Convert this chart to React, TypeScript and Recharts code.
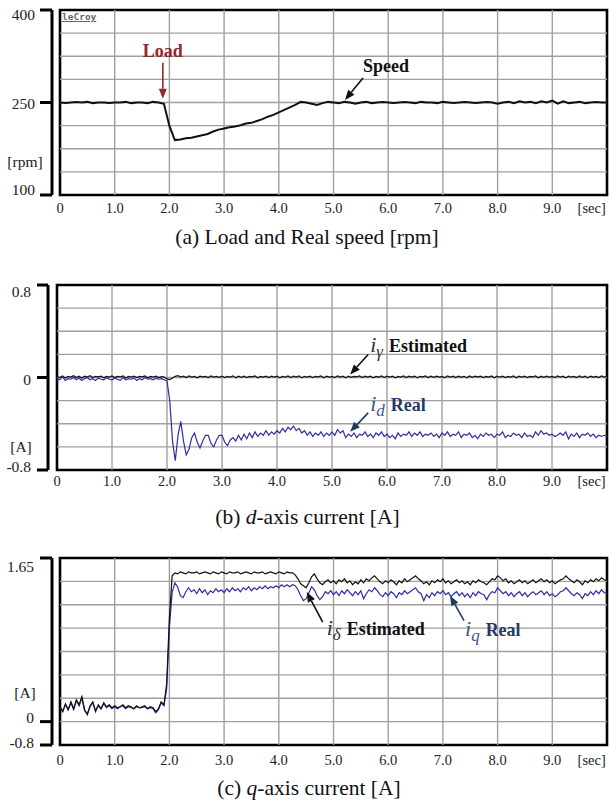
import React from "react";
import { LineChart, Line, XAxis, YAxis, ReferenceLine, ReferenceArea, ReferenceDot } from "recharts";

const SERIF = "Liberation Serif, DejaVu Serif, Times New Roman, serif";
const RED = "#8b2b2b";
const BLUE = "#2e2ea3";
const NAVY = "#1f3b63";
const GRID = "#a0a0a0";

// time axis
const X_TICKS = [0, 1, 2, 3, 4, 5, 6, 7, 8, 9];
const X_LABELS = ["0", "1.0", "2.0", "3.0", "4.0", "5.0", "6.0", "7.0", "8.0", "9.0"];
const SEC_AT = 9.72;

// (a) speed [rpm], sampled every 0.1 s
const SPEED_STEP = 0.1;
const SPEED = [
  250, 249, 250, 251, 250, 251, 249, 250, 250, 249,
  250, 250, 251, 249, 250, 250, 249, 251, 250, 248,
  212, 189, 190, 192, 193, 195, 197, 199, 203, 206,
  208, 210, 211, 213, 216, 217, 220, 223, 227, 230,
  234, 238, 242, 246, 251, 250, 248, 246, 249, 251,
  250, 249, 251, 250, 248, 250, 251, 249, 250, 251,
  250, 249, 250, 251, 250, 249, 251, 250, 250, 249,
  251, 250, 249, 250, 251, 250, 249, 250, 251, 250,
  248, 250, 251, 249, 252, 250, 251, 249, 252, 250,
  253, 248, 252, 249, 250, 251, 249, 250, 251, 250,
  250,
];
const SPEED_TICKS = [100, 155, 250, 400];
const SPEED_TICK_TEXT = ["100", "[rpm]", "250", "400"];
const SPEED_GRID = [137.5, 175, 212.5, 250, 287.5, 325, 362.5];

// (b) d-axis current [A], sampled every 0.05 s
const I_STEP = 0.05;
const GAMMA_EST = [
  0.010, 0.000, 0.014, -0.004, 0.010, 0.004, 0.015, 0.000, 0.011, -0.005, 0.012, 0.003, 0.015, 0.000, 0.010, 0.005, 0.012, -0.003, 0.010, 0.004,
  0.013, 0.000, 0.010, 0.006, 0.014, -0.004, 0.010, 0.003, 0.012, 0.000, 0.010, 0.005, 0.014, -0.002, 0.010, 0.004, 0.012, 0.000, 0.008, 0.004,
  -0.012, -0.018, -0.004, 0.010, 0.016, 0.004, 0.012, 0.000, 0.014, 0.004, 0.010, -0.002, 0.012, 0.005, 0.010, 0.000, 0.013, 0.003, 0.010, 0.002,
  0.012, 0.000, 0.010, 0.004, 0.014, -0.003, 0.011, 0.002, 0.012, 0.000, 0.010, 0.005, 0.013, -0.002, 0.010, 0.003, 0.012, 0.000, 0.011, 0.004,
  0.012, -0.002, 0.010, 0.004, 0.013, 0.000, 0.011, 0.003, 0.014, -0.003, 0.010, 0.004, 0.012, 0.000, 0.010, 0.005, 0.013, -0.002, 0.011, 0.003,
  0.010, 0.000, 0.013, 0.004, 0.011, -0.003, 0.012, 0.002, 0.010, 0.005, 0.013, 0.000, 0.011, 0.003, 0.012, -0.002, 0.010, 0.004, 0.013, 0.000,
  0.011, 0.003, 0.012, -0.002, 0.010, 0.004, 0.014, 0.000, 0.011, 0.003, 0.012, -0.003, 0.010, 0.005, 0.013, 0.000, 0.011, 0.002, 0.012, 0.004,
  0.010, -0.002, 0.013, 0.003, 0.011, 0.000, 0.012, 0.004, 0.010, -0.003, 0.013, 0.002, 0.011, 0.005, 0.012, 0.000, 0.010, 0.003, 0.014, -0.002,
  0.011, 0.004, 0.012, 0.000, 0.010, 0.003, 0.013, -0.002, 0.011, 0.004, 0.012, 0.000, 0.010, 0.005, 0.013, -0.003, 0.011, 0.002, 0.012, 0.004,
  0.010, 0.000, 0.013, 0.003, 0.011, -0.002, 0.012, 0.004, 0.010, 0.000, 0.013, 0.002, 0.011, -0.003, 0.012, 0.004, 0.010, 0.000, 0.013, 0.003,
  0.010,
];
const D_REAL = [
  -0.005, -0.020, 0.005, -0.025, -0.010, -0.015, 0.000, -0.020, -0.005, -0.025, -0.010, 0.000, -0.020, -0.010, -0.025, -0.005, -0.015, -0.020, 0.000, -0.015,
  -0.020, -0.005, -0.015, -0.025, 0.000, -0.020, -0.010, -0.015, -0.005, -0.025, -0.010, -0.020, 0.000, -0.015, -0.010, -0.020, -0.005, -0.015, -0.010, -0.020,
  -0.030, -0.200, -0.550, -0.720, -0.500, -0.380, -0.550, -0.670, -0.620, -0.520, -0.480, -0.560, -0.610, -0.550, -0.500, -0.500, -0.570, -0.600, -0.540, -0.500,
  -0.500, -0.560, -0.590, -0.540, -0.520, -0.550, -0.500, -0.540, -0.490, -0.530, -0.480, -0.520, -0.470, -0.510, -0.480, -0.500, -0.460, -0.500, -0.470, -0.490,
  -0.460, -0.480, -0.440, -0.470, -0.430, -0.450, -0.420, -0.460, -0.440, -0.480, -0.460, -0.500, -0.470, -0.510, -0.480, -0.500, -0.470, -0.510, -0.480, -0.500,
  -0.470, -0.500, -0.450, -0.480, -0.460, -0.520, -0.490, -0.510, -0.480, -0.520, -0.490, -0.500, -0.470, -0.510, -0.490, -0.520, -0.480, -0.500, -0.470, -0.510,
  -0.490, -0.520, -0.500, -0.530, -0.480, -0.510, -0.490, -0.500, -0.470, -0.510, -0.480, -0.500, -0.470, -0.510, -0.490, -0.500, -0.480, -0.510, -0.490, -0.520,
  -0.480, -0.500, -0.470, -0.510, -0.490, -0.500, -0.470, -0.520, -0.490, -0.500, -0.480, -0.520, -0.500, -0.530, -0.490, -0.510, -0.480, -0.500, -0.490, -0.520,
  -0.490, -0.500, -0.470, -0.520, -0.500, -0.510, -0.480, -0.500, -0.490, -0.520, -0.480, -0.510, -0.500, -0.520, -0.470, -0.500, -0.460, -0.490, -0.480, -0.500,
  -0.490, -0.510, -0.500, -0.480, -0.500, -0.470, -0.530, -0.490, -0.510, -0.480, -0.520, -0.490, -0.500, -0.480, -0.510, -0.490, -0.520, -0.500, -0.510, -0.500,
  -0.510,
];
const D_TICKS = [-0.8, -0.6, 0, 0.8];
const D_TICK_TEXT = ["-0.8", "[A]", "0", "0.8"];
const D_GRID = [-0.6, -0.4, -0.2, 0, 0.2, 0.4, 0.6];

// (c) q-axis current [A], sampled every 0.05 s
const DELTA_EST = [
  0.15, 0.10, 0.18, 0.12, 0.20, 0.13, 0.22, 0.17, 0.25, 0.12, 0.07, 0.16, 0.20, 0.10, 0.17, 0.13, 0.19, 0.15, 0.17, 0.14,
  0.16, 0.14, 0.15, 0.17, 0.14, 0.16, 0.15, 0.13, 0.16, 0.14, 0.15, 0.16, 0.13, 0.15, 0.14, 0.10, 0.13, 0.20, 0.17, 0.38,
  1.05, 1.47, 1.50, 1.49, 1.51, 1.50, 1.49, 1.51, 1.50, 1.50, 1.51, 1.49, 1.50, 1.51, 1.50, 1.49, 1.51, 1.50, 1.49, 1.51,
  1.50, 1.49, 1.51, 1.50, 1.50, 1.51, 1.49, 1.50, 1.51, 1.50, 1.49, 1.51, 1.50, 1.50, 1.51, 1.49, 1.50, 1.51, 1.50, 1.49,
  1.51, 1.50, 1.49, 1.51, 1.50, 1.50, 1.48, 1.44, 1.39, 1.37, 1.35, 1.40, 1.46, 1.49, 1.44, 1.40, 1.38, 1.41, 1.43, 1.40,
  1.42, 1.39, 1.43, 1.41, 1.44, 1.40, 1.42, 1.38, 1.41, 1.39, 1.43, 1.40, 1.44, 1.42, 1.45, 1.47, 1.44, 1.41, 1.39, 1.42,
  1.40, 1.43, 1.41, 1.38, 1.42, 1.40, 1.44, 1.41, 1.43, 1.45, 1.47, 1.44, 1.42, 1.39, 1.41, 1.38, 1.42, 1.40, 1.43, 1.41,
  1.44, 1.40, 1.42, 1.39, 1.41, 1.43, 1.40, 1.42, 1.39, 1.41, 1.38, 1.42, 1.40, 1.43, 1.41, 1.40, 1.38, 1.41, 1.44, 1.43,
  1.47, 1.45, 1.42, 1.44, 1.40, 1.42, 1.39, 1.41, 1.43, 1.40, 1.42, 1.39, 1.41, 1.43, 1.40, 1.42, 1.44, 1.41, 1.43, 1.40,
  1.42, 1.39, 1.41, 1.43, 1.44, 1.47, 1.44, 1.42, 1.40, 1.43, 1.41, 1.38, 1.42, 1.40, 1.43, 1.41, 1.44, 1.42, 1.45, 1.43,
  1.42,
];
const Q_REAL = [
  0.14, 0.11, 0.17, 0.12, 0.19, 0.12, 0.21, 0.16, 0.24, 0.11, 0.08, 0.15, 0.19, 0.11, 0.16, 0.13, 0.18, 0.14, 0.16, 0.13,
  0.15, 0.13, 0.15, 0.16, 0.13, 0.15, 0.14, 0.13, 0.15, 0.14, 0.14, 0.15, 0.13, 0.14, 0.13, 0.09, 0.12, 0.19, 0.16, 0.33,
  0.95, 1.30, 1.40, 1.36, 1.27, 1.25, 1.31, 1.35, 1.31, 1.33, 1.29, 1.34, 1.30, 1.33, 1.28, 1.32, 1.30, 1.34, 1.31, 1.33,
  1.30, 1.34, 1.31, 1.35, 1.32, 1.34, 1.31, 1.35, 1.33, 1.36, 1.32, 1.35, 1.33, 1.36, 1.34, 1.37, 1.34, 1.36, 1.35, 1.37,
  1.35, 1.38, 1.36, 1.38, 1.36, 1.38, 1.37, 1.33, 1.27, 1.22, 1.24, 1.30, 1.36, 1.33, 1.27, 1.23, 1.26, 1.31, 1.29, 1.32,
  1.28, 1.31, 1.27, 1.32, 1.29, 1.33, 1.30, 1.27, 1.31, 1.28, 1.32, 1.24, 1.29, 1.33, 1.31, 1.35, 1.32, 1.28, 1.26, 1.30,
  1.27, 1.31, 1.29, 1.25, 1.30, 1.28, 1.32, 1.29, 1.31, 1.33, 1.35, 1.31, 1.29, 1.22, 1.28, 1.25, 1.30, 1.27, 1.31, 1.29,
  1.32, 1.28, 1.30, 1.26, 1.29, 1.31, 1.27, 1.30, 1.26, 1.29, 1.25, 1.30, 1.27, 1.31, 1.29, 1.28, 1.23, 1.28, 1.31, 1.30,
  1.35, 1.32, 1.29, 1.31, 1.27, 1.30, 1.26, 1.29, 1.31, 1.27, 1.30, 1.26, 1.29, 1.31, 1.28, 1.30, 1.32, 1.28, 1.31, 1.27,
  1.29, 1.26, 1.28, 1.31, 1.32, 1.35, 1.32, 1.29, 1.27, 1.30, 1.28, 1.24, 1.29, 1.27, 1.31, 1.28, 1.32, 1.29, 1.33, 1.30,
  1.29,
];
const Q_MIN = -0.2357;
const Q_MAX = 1.65;
const Q_TICKS = [Q_MIN, 0, 0.29, Q_MAX];
const Q_TICK_TEXT = ["-0.8", "0", "[A]", "1.65"];
const Q_GRID = [0, 0.2357, 0.4714, 0.7071, 0.9429, 1.1786, 1.4143];

// arrow tips of the annotations [t, value]
const LOAD_TIP = [1.88, 256];
const SPEED_TIP = [5.21, 254];
const GAMMA_TIP = [5.33, 0.026];
const D_TIP = [5.33, -0.47];
const DELTA_TIP = [4.51, 1.306];
const Q_TIP = [7.13, 1.27];

const speedRows = SPEED.map((v, i) => ({ t: i * SPEED_STEP, speed: v }));
const dRows = GAMMA_EST.map((v, i) => ({ t: i * I_STEP, est: v, real: D_REAL[i] }));
const qRows = DELTA_EST.map((v, i) => ({ t: i * I_STEP, est: v, real: Q_REAL[i] }));

const XTick = (props: any) => {
  const { x, y, payload, dy } = props;
  const v = payload.value;
  const text = v === SEC_AT ? "[sec]" : X_LABELS[X_TICKS.indexOf(v)];
  return (
    <text x={x} y={y + dy} textAnchor="middle" dominantBaseline="central" fontSize={14.5} fontFamily={SERIF} fill="#222">
      {text}
    </text>
  );
};

const YTick = (props: any) => {
  const { x, y, payload, ticks, texts, shifts, len, gap } = props;
  const i = ticks.indexOf(payload.value);
  const text = texts[i];
  const ax = x + gap + len;
  if (text.startsWith("[")) {
    return (
      <text x={ax - 27} y={y} textAnchor="middle" dominantBaseline="central" fontSize={15.5} fontFamily={SERIF} fill="#222">
        {text}
      </text>
    );
  }
  return (
    <g>
      <line x1={ax - len} x2={ax} y1={y} y2={y} stroke="#000" strokeWidth={3} />
      <text x={x} y={y + shifts[i]} textAnchor="end" dominantBaseline="central" fontSize={15.5} fontFamily={SERIF} fill="#222">
        {text}
      </text>
    </g>
  );
};

function Arrow({ cx, cy, dx, dy, color }: any) {
  const tx = cx + dx;
  const ty = cy + dy;
  const ang = Math.atan2(cy - ty, cx - tx);
  const hl = 10;
  const hw = 4;
  const bx = cx - hl * Math.cos(ang);
  const by = cy - hl * Math.sin(ang);
  const px = -Math.sin(ang) * hw;
  const py = Math.cos(ang) * hw;
  return (
    <g>
      <line x1={tx} y1={ty} x2={bx} y2={by} stroke={color} strokeWidth={1.6} />
      <polygon points={`${cx},${cy} ${bx + px},${by + py} ${bx - px},${by - py}`} fill={color} />
    </g>
  );
}

function SymLabel({ x, y, sym, sub, word, color, symColor }: any) {
  return (
    <text x={x} y={y} fontFamily={SERIF} fill={color}>
      <tspan fontStyle="italic" fontSize={22} fill={symColor}>{sym}</tspan>
      <tspan fontStyle="italic" fontSize={17} dy={5} fill={symColor}>{sub}</tspan>
      <tspan dy={-5} dx={6} fontWeight="bold" fontSize={18}>{word}</tspan>
    </text>
  );
}

function Scope({ data, traces, xMin, yDomain, ticks, texts, shifts, grid, axisW, len, gap, height, top, tickDy, children }: any) {
  return (
    <LineChart width={609} height={height} data={data} margin={{ top, right: 2, bottom: 0, left: 0 }}>
      <XAxis
        dataKey="t"
        type="number"
        domain={[xMin, 10]}
        allowDataOverflow
        ticks={[...X_TICKS, SEC_AT]}
        interval={0}
        axisLine={false}
        tickLine={false}
        tickSize={0}
        tickMargin={0}
        height={30}
        tick={<XTick dy={tickDy} />}
      />
      <YAxis
        type="number"
        domain={yDomain}
        allowDataOverflow
        ticks={ticks}
        interval={0}
        width={axisW}
        axisLine={{ stroke: "#000", strokeWidth: 3 }}
        tickLine={false}
        tickSize={len}
        tickMargin={gap}
        tick={<YTick ticks={ticks} texts={texts} shifts={shifts} len={len} gap={gap} />}
      />
      {X_TICKS.slice(1).map((x) => (
        <ReferenceLine key={"v" + x} x={x} stroke={GRID} strokeWidth={1.4} />
      ))}
      {grid.map((y: number) => (
        <ReferenceLine key={"h" + y} segment={[{ x: 0, y }, { x: 10, y }]} stroke={GRID} strokeWidth={1.4} />
      ))}
      {traces.map((tr: any) => (
        <Line
          key={tr.key}
          dataKey={tr.key}
          type="linear"
          stroke={tr.color}
          strokeWidth={tr.width}
          dot={false}
          activeDot={false}
          isAnimationActive={false}
        />
      ))}
      <ReferenceArea x1={0} x2={10} y1={yDomain[0]} y2={yDomain[1]} fill="none" fillOpacity={0} stroke="#000" strokeWidth={2.6} />
      {children}
    </LineChart>
  );
}

const caption = (top: number, cx: number, content: React.ReactNode) => (
  <div
    style={{
      position: "absolute",
      top,
      left: cx - 304.5,
      width: 609,
      textAlign: "center",
      fontFamily: SERIF,
      fontSize: 21.5,
      lineHeight: "24px",
      color: "#111",
    }}
  >
    {content}
  </div>
);

export default function App() {
  return (
    <div style={{ position: "absolute", left: 0, top: 0, width: 609, height: 805, background: "#fff" }}>
      <div style={{ position: "absolute", left: 0, top: 0 }}>
        <Scope
          data={speedRows}
          traces={[{ key: "speed", color: "#111", width: 2 }]}
          xMin={-8 / 54.7}
          yDomain={[100, 400]}
          ticks={SPEED_TICKS}
          texts={SPEED_TICK_TEXT}
          shifts={[-6, 0, 1, 4]}
          grid={SPEED_GRID}
          axisW={52}
          len={12}
          gap={5}
          height={225}
          top={10}
          tickDy={13}
        >
          <ReferenceDot
            x={LOAD_TIP[0]}
            y={LOAD_TIP[1]}
            shape={(p: any) => (
              <g>
                <Arrow cx={p.cx} cy={p.cy} dx={0} dy={-36} color={RED} />
                <text x={p.cx - 20} y={p.cy - 42} fill={RED} fontFamily={SERIF} fontWeight="bold" fontSize={18}>
                  Load
                </text>
              </g>
            )}
          />
          <ReferenceDot
            x={SPEED_TIP[0]}
            y={SPEED_TIP[1]}
            shape={(p: any) => (
              <g>
                <Arrow cx={p.cx} cy={p.cy} dx={18} dy={-22} color="#111" />
                <text x={p.cx + 18} y={p.cy - 28} fill="#111" fontFamily={SERIF} fontWeight="bold" fontSize={18}>
                  Speed
                </text>
              </g>
            )}
          />
        </Scope>
        <div
          style={{
            position: "absolute",
            left: 62,
            top: 11,
            fontFamily: "DejaVu Sans Mono, monospace",
            fontWeight: "bold",
            fontSize: 9.5,
            color: "#666",
            textDecoration: "underline",
            lineHeight: "11px",
          }}
        >
          leCroy
        </div>
      </div>
      {caption(225, 307, "(a) Load and Real speed [rpm]")}

      <div style={{ position: "absolute", left: 0, top: 270 }}>
        <Scope
          data={dRows}
          traces={[
            { key: "est", color: "#111", width: 1.2 },
            { key: "real", color: BLUE, width: 1.2 },
          ]}
          xMin={-9 / 55}
          yDomain={[-0.8, 0.8]}
          ticks={D_TICKS}
          texts={D_TICK_TEXT}
          shifts={[-4, 0, 2, 6]}
          grid={D_GRID}
          axisW={48}
          len={11}
          gap={6}
          height={230}
          top={15}
          tickDy={11}
        >
          <ReferenceDot
            x={GAMMA_TIP[0]}
            y={GAMMA_TIP[1]}
            shape={(p: any) => (
              <g>
                <Arrow cx={p.cx} cy={p.cy} dx={18} dy={-20} color="#111" />
                <SymLabel x={p.cx + 20} y={p.cy - 22} sym="i" sub="γ" word="Estimated" color="#111" symColor="#333" />
              </g>
            )}
          />
          <ReferenceDot
            x={D_TIP[0]}
            y={D_TIP[1]}
            shape={(p: any) => (
              <g>
                <Arrow cx={p.cx} cy={p.cy} dx={18} dy={-19} color={NAVY} />
                <SymLabel x={p.cx + 20} y={p.cy - 21} sym="i" sub="d" word="Real" color={NAVY} symColor="#3b5a85" />
              </g>
            )}
          />
        </Scope>
      </div>
      {caption(505, 307.5, <>(b) <i>d</i>-axis current [A]</>)}

      <div style={{ position: "absolute", left: 0, top: 540 }}>
        <Scope
          data={qRows}
          traces={[
            { key: "real", color: BLUE, width: 1.2 },
            { key: "est", color: "#111", width: 1.2 },
          ]}
          xMin={-8 / 54.7}
          yDomain={[Q_MIN, Q_MAX]}
          ticks={Q_TICKS}
          texts={Q_TICK_TEXT}
          shifts={[-3, -4, 0, 8]}
          grid={Q_GRID}
          axisW={52}
          len={12}
          gap={6}
          height={235}
          top={18}
          tickDy={15}
        >
          <ReferenceDot
            x={DELTA_TIP[0]}
            y={DELTA_TIP[1]}
            shape={(p: any) => (
              <g>
                <Arrow cx={p.cx} cy={p.cy} dx={16} dy={30} color="#111" />
                <SymLabel x={p.cx + 20} y={p.cy + 43} sym="i" sub="δ" word="Estimated" color="#111" symColor="#333" />
              </g>
            )}
          />
          <ReferenceDot
            x={Q_TIP[0]}
            y={Q_TIP[1]}
            shape={(p: any) => (
              <g>
                <Arrow cx={p.cx} cy={p.cy} dx={14} dy={25} color={NAVY} />
                <SymLabel x={p.cx + 15} y={p.cy + 40} sym="i" sub="q" word="Real" color={NAVY} symColor="#3b5a85" />
              </g>
            )}
          />
        </Scope>
      </div>
      {caption(776, 309, <>(c) <i>q</i>-axis current [A]</>)}
    </div>
  );
}
